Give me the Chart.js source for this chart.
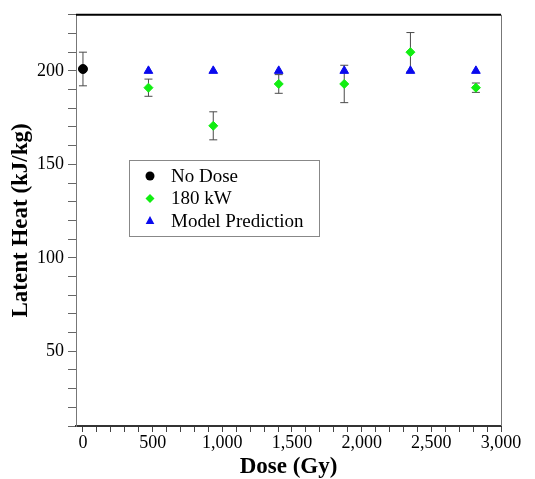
<!DOCTYPE html>
<html lang="en">
<head>
  <meta charset="UTF-8">
  <title>Latent Heat vs Dose</title>
  <script src="https://cdn.jsdelivr.net/npm/chart.js"></script>
  <style>
    body {
      margin: 0;
      background: #ffffff;
    }
    canvas {
      display: block;
    }
  </style>
</head>
<body>
  <canvas id="chart" width="535" height="479"></canvas>

  <script>
    // data
    const noDoseX = [0];
    const noDoseY = [201];
    const noDoseErr = [9];

    const doseX = [470, 935, 1405, 1875, 2350, 2820];
    const heat180 = [191, 170.6, 193, 193, 210, 191];
    const err180 = [4.6, 7.5, 5, 10, 10.5, 2.5];

    const modelY = [200, 200, 200, 200, 200, 200];

    const xTicks = [0, 500, 1000, 1500, 2000, 2500, 3000];
    const yTicks = [50, 100, 150, 200];

    const serif = "'Liberation Serif', 'Times New Roman', serif";

    function toPoints(xs, ys, errs) {
      return xs.map((x, i) => ({ x: x, y: ys[i], err: errs ? errs[i] : 0 }));
    }

    // error bars, drawn under the markers
    const errorBars = {
      id: 'errorBars',
      beforeDatasetsDraw(chart) {
        const ctx = chart.ctx;
        const xs = chart.scales.x, ys = chart.scales.y;
        ctx.save();
        ctx.strokeStyle = '#4a4a4a';
        ctx.lineWidth = 1;
        chart.data.datasets.forEach(ds => {
          ds.data.forEach(p => {
            if (!p.err) return;
            const px = xs.getPixelForValue(p.x);
            const top = ys.getPixelForValue(p.y + p.err);
            const bot = ys.getPixelForValue(p.y - p.err);
            ctx.beginPath();
            ctx.moveTo(px, top); ctx.lineTo(px, bot);
            ctx.moveTo(px - 4, top); ctx.lineTo(px + 4, top);
            ctx.moveTo(px - 4, bot); ctx.lineTo(px + 4, bot);
            ctx.stroke();
          });
        });
        ctx.restore();
      }
    };

    // frame on top/right plus the boxed legend inside the plot
    const frameAndLegend = {
      id: 'frameAndLegend',
      afterDraw(chart) {
        const ctx = chart.ctx;
        const a = chart.chartArea;
        ctx.save();
        ctx.strokeStyle = '#000000';
        ctx.lineWidth = 2;
        ctx.beginPath();
        ctx.moveTo(a.left, a.top); ctx.lineTo(a.right, a.top);
        ctx.stroke();
        ctx.strokeStyle = '#777777';
        ctx.lineWidth = 1;
        ctx.beginPath();
        ctx.moveTo(a.right + 0.5, a.top); ctx.lineTo(a.right + 0.5, a.bottom);
        ctx.stroke();

        // legend box
        const bx = 129.5, by = 160.5, bw = 190, bh = 76;
        ctx.fillStyle = '#ffffff';
        ctx.fillRect(bx, by, bw, bh);
        ctx.strokeStyle = '#888888';
        ctx.strokeRect(bx, by, bw, bh);

        ctx.font = '19px ' + serif;
        ctx.textBaseline = 'middle';
        ctx.textAlign = 'left';
        chart.data.datasets.forEach((ds, i) => {
          const cy = 176 + i * 22.5;
          const cx = 150;
          ctx.fillStyle = ds.backgroundColor;
          ctx.beginPath();
          if (ds.pointStyle === 'circle') {
            ctx.arc(cx, cy, 4.5, 0, Math.PI * 2);
          } else if (ds.pointStyle === 'rectRot') {
            ctx.moveTo(cx, cy - 4.5); ctx.lineTo(cx + 4.5, cy);
            ctx.lineTo(cx, cy + 4.5); ctx.lineTo(cx - 4.5, cy);
          } else {
            ctx.moveTo(cx, cy - 5); ctx.lineTo(cx + 4.3, cy + 3);
            ctx.lineTo(cx - 4.3, cy + 3);
          }
          ctx.closePath();
          ctx.fill();
          ctx.fillStyle = '#000000';
          ctx.fillText(ds.label, 171, cy + 1);
        });
        ctx.restore();
      }
    };

    const chart = new Chart(document.getElementById('chart'), {
      type: 'scatter',
      data: {
        datasets: [
          {
            label: 'No Dose',
            data: toPoints(noDoseX, noDoseY, noDoseErr),
            pointStyle: 'circle',
            pointRadius: 4.5,
            backgroundColor: '#000000',
            borderColor: '#000000'
          },
          {
            label: '180 kW',
            data: toPoints(doseX, heat180, err180),
            pointStyle: 'rectRot',
            pointRadius: 4.5,
            backgroundColor: '#11ee11',
            borderColor: '#11ee11'
          },
          {
            label: 'Model Prediction',
            data: toPoints(doseX, modelY, null),
            pointStyle: 'triangle',
            pointRadius: 5,
            backgroundColor: '#0a0aee',
            borderColor: '#0a0aee'
          }
        ]
      },
      options: {
        responsive: false,
        animation: false,
        layout: { padding: { top: 14, right: 34, left: 0, bottom: 0 } },
        plugins: {
          legend: { display: false },
          tooltip: { enabled: false }
        },
        scales: {
          x: {
            type: 'linear',
            min: -50,
            max: 3000,
            afterFit(s) { s.height = 53; },
            afterBuildTicks(s) {
              const t = [];
              for (let v = 0; v <= 3000; v += 100) t.push({ value: v });
              s.ticks = t;
            },
            ticks: {
              color: '#000000',
              padding: 0,
              maxRotation: 0,
              autoSkip: false,
              font: { family: serif, size: 18 },
              callback: v => xTicks.includes(v) ? v.toLocaleString('en-US') : ''
            },
            grid: {
              drawOnChartArea: false,
              tickLength: 6,
              color: '#444444'
            },
            border: { color: '#333333', width: 2 },
            title: {
              display: true,
              text: 'Dose (Gy)',
              color: '#000000',
              padding: { top: 0, bottom: 0 },
              font: { family: serif, size: 23, weight: 'bold', lineHeight: 1.05 }
            }
          },
          y: {
            min: 10,
            max: 230,
            afterFit(s) { s.width = 76; },
            afterBuildTicks(s) {
              const t = [];
              for (let v = 10; v <= 230; v += 10) t.push({ value: v });
              s.ticks = t;
            },
            ticks: {
              color: '#000000',
              padding: 4,
              autoSkip: false,
              font: { family: serif, size: 18 },
              callback: v => yTicks.includes(v) ? String(v) : ''
            },
            grid: {
              drawOnChartArea: false,
              tickLength: 8,
              color: '#666666'
            },
            border: { color: '#777777', width: 1 },
            title: {
              display: true,
              text: 'Latent Heat (kJ/kg)',
              color: '#000000',
              padding: { top: 8, bottom: 0 },
              font: { family: serif, size: 23, weight: 'bold', lineHeight: 1.15 }
            }
          }
        }
      },
      plugins: [errorBars, frameAndLegend]
    });
  </script>
</body>
</html>
